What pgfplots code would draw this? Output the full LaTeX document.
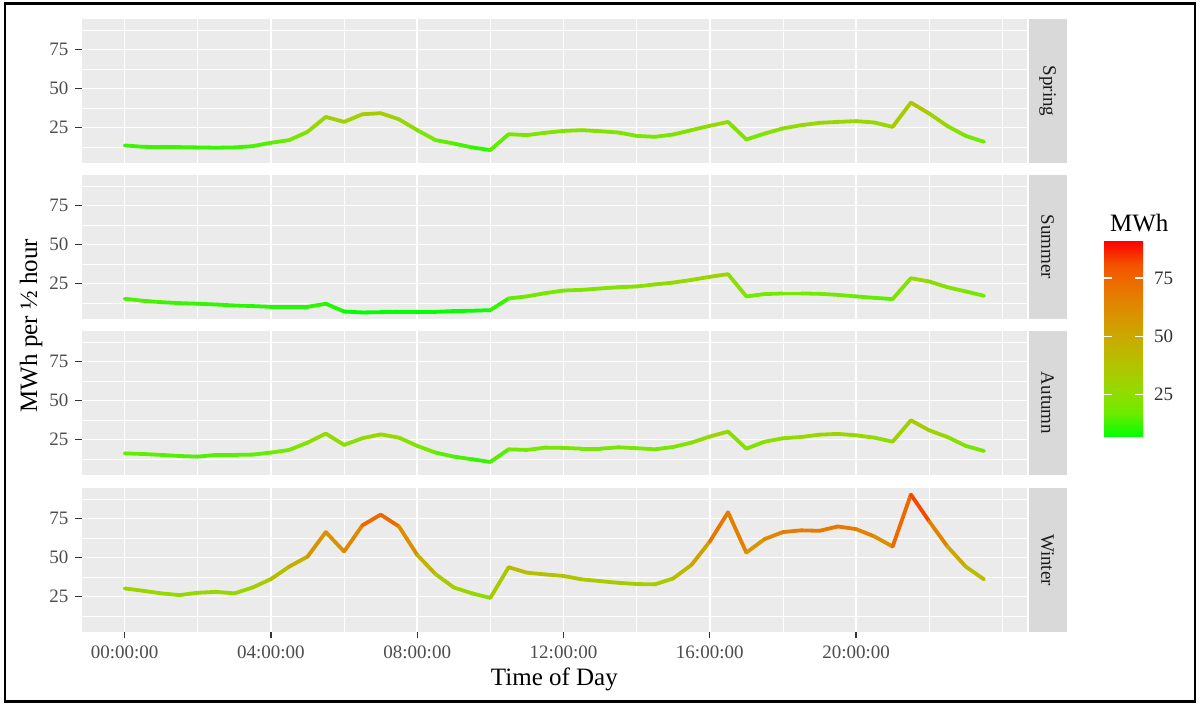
\documentclass[border=0pt]{standalone}
\usepackage{pgfplots}
\usepackage{pgfplotstable}
\pgfplotsset{compat=1.18}
\usepackage{fontspec}
\setmainfont{Liberation Serif}
\definecolor{panelbg}{HTML}{EBEBEB}
\definecolor{stripbg}{HTML}{D9D9D9}
\definecolor{labgrey}{HTML}{4D4D4D}
\definecolor{tickgrey}{HTML}{333333}
\definecolor{striptext}{HTML}{1A1A1A}
\newcommand\ticksize{\fontsize{9.5bp}{11bp}\selectfont}
\newcommand\titlesize{\fontsize{12.5bp}{14bp}\selectfont}

\pgfplotstableread{
t spring summer autumn winter
0.0 13.5 15.2 16.1 30.2
0.5 12.6 13.9 15.7 28.7
1.0 12.4 13.0 15.1 27.0
1.5 12.4 12.4 14.4 25.9
2.0 12.2 12.0 14.0 27.4
2.5 12.0 11.5 15.1 28.0
3.0 12.2 10.9 15.1 27.0
3.5 13.0 10.5 15.3 30.8
4.0 15.2 10.0 16.6 36.2
4.5 16.9 10.0 18.3 44.2
5.0 22.2 10.0 23.0 50.6
5.5 31.8 12.0 28.8 66.4
6.0 28.6 7.0 21.5 53.9
6.5 33.5 6.4 25.8 70.7
7.0 34.2 6.6 28.3 77.6
7.5 30.3 6.8 26.2 70.0
8.0 23.3 6.8 20.9 51.7
8.5 16.9 6.8 16.6 39.4
9.0 14.7 7.3 14.0 30.8
9.5 12.2 7.5 12.3 27.0
10.0 10.5 7.9 10.6 24.1
10.5 20.7 15.4 18.7 43.8
11.0 20.1 16.7 18.3 40.3
11.5 21.6 18.8 19.8 39.2
12.0 22.8 20.5 19.6 38.2
12.5 23.3 20.9 19.1 36.0
13.0 22.6 21.8 19.1 34.9
13.5 21.8 22.6 20.0 33.8
14.0 19.6 23.1 19.4 33.0
14.5 19.0 24.4 18.7 32.8
15.0 20.5 25.6 20.2 36.6
15.5 23.3 27.3 23.0 45.3
16.0 26.1 29.3 26.9 60.3
16.5 28.6 31.0 30.1 79.1
17.0 17.3 16.7 19.1 53.2
17.5 21.1 18.2 23.6 61.9
18.0 24.4 18.6 25.8 66.4
18.5 26.5 18.6 26.6 67.5
19.0 28.0 18.4 28.1 67.2
19.5 28.6 17.7 28.6 70.0
20.0 29.1 16.7 27.7 68.3
20.5 28.2 15.8 26.2 63.6
21.0 25.4 15.0 23.6 57.1
21.5 41.0 28.4 37.3 90.5
22.0 34.0 26.3 30.9 73.3
22.5 25.9 22.6 26.6 57.1
23.0 19.6 19.9 20.9 44.2
23.5 15.8 17.1 17.6 36.0
}\data

\pgfplotsset{
  colormap={gg}{rgb255=(0,255,0) rgb255=(112,235,0) rgb255=(152,215,0) rgb255=(179,194,0) rgb255=(200,171,0) rgb255=(218,146,0) rgb255=(232,118,0) rgb255=(244,83,0) rgb255=(255,0,0)},
  panel/.style={
    scale only axis, width=472.65bp, height=72bp, anchor=south west,
    xmin=-1.175, xmax=24.675, ymin=2.2, ymax=94.7,
    axis line style={draw=none},
    axis background/.style={fill=panelbg},
    xtick={0,4,8,12,16,20}, minor xtick={2,6,10,14,18,22,24},
    ytick={25,50,75}, minor ytick={12.5,37.5,62.5,87.5},
    grid=both,
    major grid style={white, line width=0.8bp},
    minor grid style={white, line width=0.4bp},
    tick align=outside, major tick length=3.2bp, minor tick length=0pt,
    xtick pos=bottom, ytick pos=left,
    tick style={color=tickgrey, line width=0.7bp},
    /pgf/number format/assume math mode=true,
    yticklabel style={font=\ticksize, text=labgrey},
    xticklabel style={font=\ticksize, text=labgrey},
    colormap name=gg, point meta min=6.8, point meta max=91,
  },
  noxt/.style={xticklabels={}, xtick style={draw=none}},
  series/.style={mesh, point meta=y, line width=1.9bp, line cap=round, line join=round},
}

\begin{document}
\begin{tikzpicture}
\useasboundingbox (0,0) rectangle (600bp,352bp);

\begin{axis}[panel, noxt, name=p1, at={(40.85bp,270.5bp)},
  colorbar, colorbar/width=19.5bp,
  colorbar style={
    at={(parent axis.north east)}, anchor=north west,
    xshift=30bp, yshift=-110.85bp,
    scale only axis, width=19.5bp, height=98bp,
    ytick={25,50,75}, ytick pos=both, yticklabel pos=right,
    tick align=inside, major tick length=3.8bp,
    tick style={draw=white, line width=0.6bp},
    axis line style={draw=none},
    yticklabel style={font=\ticksize, text=tickgrey, xshift=2bp},
    /pgf/number format/assume math mode=true,
  }]
\addplot[series] table[x=t, y=spring] {\data};
\end{axis}

\begin{axis}[panel, noxt, name=p2, at={(40.85bp,192.5bp)}]
\addplot[series] table[x=t, y=summer] {\data};
\end{axis}

\begin{axis}[panel, noxt, name=p3, at={(40.85bp,114.5bp)}]
\addplot[series] table[x=t, y=autumn] {\data};
\end{axis}

\begin{axis}[panel, name=p4, at={(40.85bp,36bp)},
  xticklabels={00:00:00,04:00:00,08:00:00,12:00:00,16:00:00,20:00:00}]
\addplot[series] table[x=t, y=winter] {\data};
\end{axis}

\foreach \p/\lab in {p1/Spring, p2/Summer, p3/Autumn, p4/Winter}{
  \fill[stripbg] ([xshift=0.75bp]\p.north east) rectangle ([xshift=19.75bp]\p.south east);
  \node[rotate=-90, font=\ticksize, text=striptext] at ([xshift=10.25bp]\p.east) {\lab};
}

\node[font=\titlesize, anchor=base] at (277.2bp,9.5bp) {Time of Day};
\node[font=\titlesize, rotate=90] at (15.5bp,189.25bp) {MWh per ½ hour};
\node[font=\titlesize, anchor=base west] at (551.5bp,236bp) {MWh};

\draw[black, line width=1.2bp] (2.4bp,1.2bp) rectangle (597.6bp,350.3bp);
\end{tikzpicture}
\end{document}
